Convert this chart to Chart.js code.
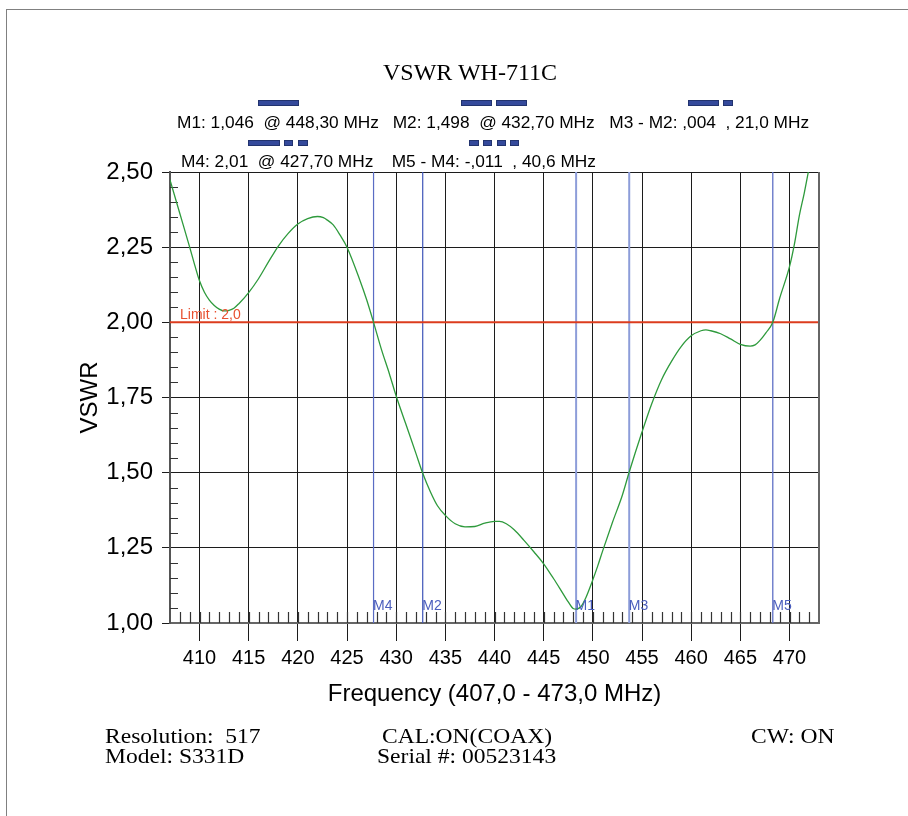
<!DOCTYPE html>
<html><head><meta charset="utf-8">
<script src="https://cdn.jsdelivr.net/npm/chart.js@4.4.1/dist/chart.umd.min.js"></script>
<style>
html,body{margin:0;padding:0;background:#fff;overflow:hidden}
#wrap{position:relative;width:908px;height:816px;overflow:hidden}
#frame{position:absolute;left:6px;top:9px;width:1000px;height:1000px;border-left:1.5px solid #808080;border-top:1.5px solid #808080}
canvas{position:absolute;left:0;top:0}
.t{position:absolute;white-space:pre;color:#000;line-height:1}
.sans{font-family:"Liberation Sans",Arial,sans-serif}
.serif{font-family:"Liberation Serif","Times New Roman",serif}
.bar{position:absolute;background:#34499b;border:1px solid #22336e;box-sizing:border-box}
</style></head>
<body>
<div id="wrap">
<div id="frame"></div>
<canvas id="c" width="908" height="816"></canvas>
<div class="t serif" style="left:470px;top:60px;font-size:24px;transform:translateX(-50%)">VSWR WH-711C</div>

<div class="bar" style="left:258px;top:100px;width:41px;height:6px"></div>
<div class="bar" style="left:461px;top:100px;width:31px;height:6px"></div>
<div class="bar" style="left:496px;top:100px;width:31px;height:6px"></div>
<div class="bar" style="left:688px;top:100px;width:31px;height:6px"></div>
<div class="bar" style="left:723px;top:100px;width:10px;height:6px"></div>
<div class="t sans" style="left:177px;top:114px;font-size:17.3px">M1: 1,046  @ 448,30 MHz</div>
<div class="t sans" style="left:392.7px;top:114px;font-size:17.3px">M2: 1,498  @ 432,70 MHz</div>
<div class="t sans" style="left:609.3px;top:114px;font-size:17.3px">M3 - M2: ,004  , 21,0 MHz</div>

<div class="bar" style="left:248px;top:140px;width:32px;height:6px"></div>
<div class="bar" style="left:284px;top:140px;width:9px;height:6px"></div>
<div class="bar" style="left:298px;top:140px;width:10px;height:6px"></div>
<div class="bar" style="left:469px;top:140px;width:10px;height:6px"></div>
<div class="bar" style="left:483px;top:140px;width:9px;height:6px"></div>
<div class="bar" style="left:497px;top:140px;width:9px;height:6px"></div>
<div class="bar" style="left:510px;top:140px;width:9px;height:6px"></div>
<div class="t sans" style="left:181px;top:153px;font-size:17.3px">M4: 2,01  @ 427,70 MHz</div>
<div class="t sans" style="left:391.7px;top:153px;font-size:17.3px">M5 - M4: -,011  , 40,6 MHz</div>

<div class="t serif" style="left:105px;top:725px;font-size:22px;transform:scaleX(1.07);transform-origin:0 0">Resolution:  517</div>
<div class="t serif" style="left:105px;top:745px;font-size:22px;transform:scaleX(1.07);transform-origin:0 0">Model: S331D</div>
<div class="t serif" style="left:381.7px;top:725px;font-size:22px;transform:scaleX(1.07);transform-origin:0 0">CAL:ON(COAX)</div>
<div class="t serif" style="left:377.3px;top:745px;font-size:22px;transform:scaleX(1.07);transform-origin:0 0">Serial #: 00523143</div>
<div class="t serif" style="left:751px;top:725px;font-size:22px;transform:scaleX(1.07);transform-origin:0 0">CW: ON</div>
</div>
<script>
// ---- data ----
const FREQ = [407.0,408.0,409.0,409.5,410.0,410.5,411.0,411.5,412.0,412.5,413.0,413.5,414.0,415.0,416.0,417.0,418.0,419.0,420.0,421.0,422.0,422.6,423.0,423.6,424.3,425.0,426.3,427.0,427.7,428.5,429.3,430.0,431.0,432.0,432.7,433.5,434.2,435.0,436.0,437.0,438.0,439.0,440.0,440.5,441.2,442.0,443.0,444.0,445.0,446.0,446.7,447.5,448.0,448.3,448.8,449.3,449.9,450.5,451.0,452.0,453.0,453.7,455.0,456.0,457.0,458.0,459.0,460.0,461.0,461.5,462.0,463.0,464.0,465.0,466.0,466.5,467.0,467.6,468.3,469.0,470.0,470.5,471.0,471.5,472.0,472.5];
const VSWR = [2.474,2.362,2.250,2.192,2.138,2.100,2.074,2.056,2.044,2.038,2.040,2.047,2.062,2.099,2.145,2.200,2.253,2.295,2.327,2.345,2.352,2.348,2.340,2.324,2.290,2.250,2.141,2.075,2.000,1.910,1.830,1.755,1.660,1.565,1.498,1.435,1.390,1.358,1.330,1.320,1.321,1.332,1.338,1.338,1.330,1.310,1.275,1.237,1.197,1.148,1.112,1.070,1.048,1.046,1.055,1.085,1.135,1.190,1.240,1.335,1.425,1.502,1.635,1.730,1.810,1.870,1.920,1.955,1.972,1.975,1.972,1.962,1.945,1.927,1.921,1.925,1.940,1.965,2.000,2.080,2.185,2.260,2.355,2.430,2.515,2.600];
const X_TICKS = [410,415,420,425,430,435,440,445,450,455,460,465,470];
const Y_TICKS = [1.00,1.25,1.50,1.75,2.00,2.25,2.50];
const MARKER_NAMES = ['M4','M2','M1','M3','M5'];
const MARKER_FREQS = [427.7,432.7,448.3,453.7,468.3];
const LIMIT = 2.0;
const X_RANGE = [407,473];
const Y_RANGE = [1.0,2.5];

// ---- styles ----
const MARKER_COLORS = ['#5a6cc4','#3f55b8','#8d9dd9','#8d9dd9','#5f70c6'];
const MARKER_WIDTHS = [1.2,1.2,2,2,1.3];
const SANS = '"Liberation Sans", Arial, sans-serif';

const datasets = [
  { label:'VSWR', data: FREQ.map((f,i)=>({x:f,y:VSWR[i]})), borderColor:'#2e9a3c', borderWidth:1.3,
    pointRadius:0, cubicInterpolationMode:'monotone', fill:false },
  { label:'Limit', data:[{x:X_RANGE[0],y:LIMIT},{x:X_RANGE[1],y:LIMIT}], borderColor:'#dc3c1e', borderWidth:2, pointRadius:0 }
];
MARKER_FREQS.forEach((f,i)=>{
  datasets.push({ label:MARKER_NAMES[i], data:[{x:f,y:Y_RANGE[0]},{x:f,y:Y_RANGE[1]}],
    borderColor:MARKER_COLORS[i], borderWidth:MARKER_WIDTHS[i], pointRadius:0 });
});

const extras = {
  id:'extras',
  beforeDatasetsDraw(chart){
    const {ctx, chartArea:a, scales:{x,y}} = chart;
    ctx.save();
    ctx.strokeStyle = '#333'; ctx.lineWidth = 1.2;
    ctx.beginPath();
    // minor y ticks every 0.05
    for (let k = 21; k < 50; k++) {
      if (k % 5 === 0) continue;
      const py = Math.round(y.getPixelForValue(k/20)) + 0.5;
      ctx.moveTo(a.left, py); ctx.lineTo(a.left + 8, py);
    }
    // minor x ticks every 1 MHz
    for (let f = X_RANGE[0] + 1; f < X_RANGE[1]; f++) {
      const px = Math.round(x.getPixelForValue(f)) + 0.5;
      ctx.moveTo(px, a.bottom); ctx.lineTo(px, a.bottom - 11);
    }
    ctx.stroke();
    ctx.restore();
  },
  afterDatasetsDraw(chart){
    const {ctx, chartArea:a, scales:{x,y}} = chart;
    ctx.save();
    // right frame
    ctx.strokeStyle = '#666'; ctx.lineWidth = 2;
    ctx.beginPath(); ctx.moveTo(a.right, a.top); ctx.lineTo(a.right, a.bottom + 1); ctx.stroke();
    // marker labels
    ctx.font = '14px ' + SANS; ctx.textBaseline = 'alphabetic'; ctx.textAlign = 'left';
    ctx.fillStyle = '#4a5dbd';
    MARKER_FREQS.forEach((f,i)=>{
      ctx.fillText(MARKER_NAMES[i], x.getPixelForValue(f) - 0.5, y.getPixelForValue(Y_RANGE[0]) - 13);
    });
    // limit label
    ctx.fillStyle = '#e8502f';
    ctx.fillText('Limit : ' + LIMIT.toFixed(1).replace('.', ','), a.left + 10, y.getPixelForValue(LIMIT) - 3);
    ctx.restore();
  }
};

new Chart(document.getElementById('c'), {
  type:'line',
  data:{ datasets },
  options:{
    responsive:false, animation:false,
    layout:{ padding:{ left:0, top:172, right:89, bottom:0 } },
    plugins:{ legend:{display:false}, tooltip:{enabled:false}, title:{display:false} },
    scales:{
      x:{ type:'linear', min:X_RANGE[0], max:X_RANGE[1],
        afterBuildTicks: s => { s.ticks = X_TICKS.map(v=>({value:v})); },
        afterFit: s => { s.height = 193; },
        grid:{ color:'#1c1c1c', lineWidth:1, tickLength:18, drawTicks:true },
        border:{ display:true, color:'#666', width:2 },
        ticks:{ color:'#000', font:{ family:SANS, size:20 }, padding:5, maxRotation:0, autoSkip:false },
        title:{ display:true, text:'Frequency (407,0 - 473,0 MHz)', color:'#000', font:{ family:SANS, size:24 }, padding:{ top:0, bottom:107 } }
      },
      y:{ type:'linear', min:Y_RANGE[0], max:Y_RANGE[1],
        afterBuildTicks: s => { s.ticks = Y_TICKS.map(v=>({value:v})); },
        afterFit: s => { s.width = 170; },
        grid:{ color:'#1c1c1c', lineWidth:1, tickLength:8 },
        border:{ display:true, color:'#555', width:2 },
        ticks:{ color:'#000', font:{ family:SANS, size:24 }, padding:9, autoSkip:false,
          callback: v => Number(v).toFixed(2).replace('.', ',') },
        title:{ display:true, text:'VSWR', color:'#000', font:{ family:SANS, size:24 }, padding:{ top:76, bottom:0 } }
      }
    }
  },
  plugins:[extras]
});
</script>
</body></html>
